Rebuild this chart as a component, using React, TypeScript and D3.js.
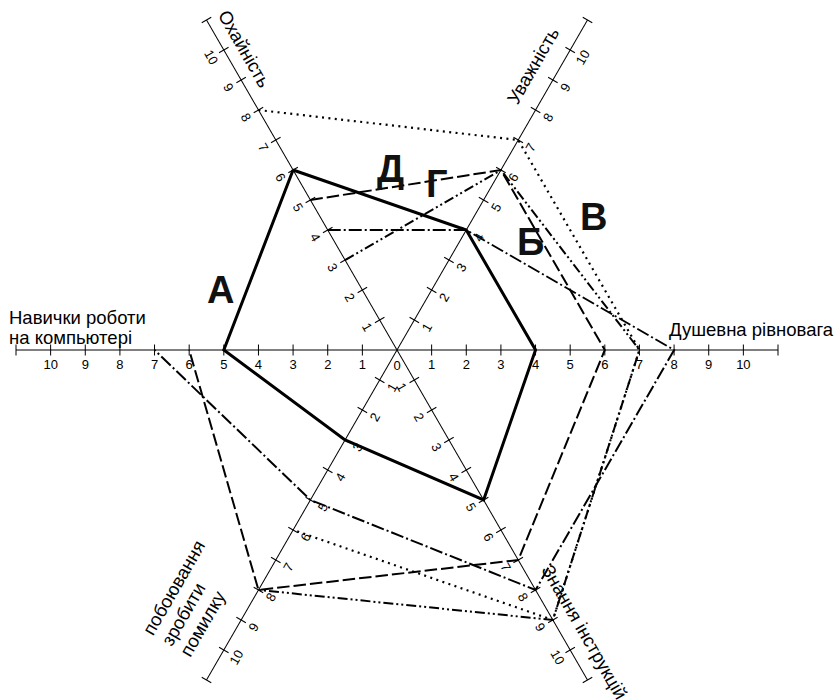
import React from "react";
import * as d3 from "d3";

// Axis names in drawing order (clockwise from upper-left)
const axisNames: string[][] = [
  ["Охайність"],
  ["Уважність"],
  ["Душевна рівновага"],
  ["Знання інструкцій"],
  ["побоювання", "зробити", "помилку"],
  ["Навички роботи", "на компьютері"],
];

const tickValues: number[] = [1, 2, 3, 4, 5, 6, 7, 8, 9, 10];
const axisMax = 11;

const seriesNames: string[] = ["А", "Б", "В", "Г", "Д"];

// Values per axis: Охайність, Уважність, Душевна рівновага, Знання інструкцій, побоювання, Навички
const seriesA: (number | null)[] = [6, 4, 4, 5, 3, 5];
const seriesB: (number | null)[] = [4, 4, 8, 8, 5, 7];
const seriesV: (number | null)[] = [8, 7, 7, 9, 6, null];
const seriesG: (number | null)[] = [3, 6, 7, 9, 8, null];
const seriesD: (number | null)[] = [5, 6, 6, 7, 8, 6];

const CX = 397;
const CY = 350;
const FONT = "'Liberation Sans', Arial, Helvetica, sans-serif";

const r = d3.scaleLinear().domain([0, axisMax]).range([0, 381]);
// screen angles of axes (degrees)
const angles = [-120, -60, 0, 60, 120, 180];

function pt(i: number, v: number): [number, number] {
  const a = (angles[i] * Math.PI) / 180;
  return [CX + r(v) * Math.cos(a), CY + r(v) * Math.sin(a)];
}

const styles = [
  { data: seriesA, width: 3, dash: "none", closed: true },
  { data: seriesB, width: 2, dash: "13 3 2 3", closed: false },
  { data: seriesV, width: 2.2, dash: "2 4.4", closed: false },
  { data: seriesG, width: 2, dash: "10 3 2 3 2 3", closed: false },
  { data: seriesD, width: 2, dash: "12.5 4", closed: false },
];

const labelPos: [number, number][] = [
  [207, 303],
  [517, 255],
  [580, 230],
  [426, 197],
  [377, 182],
];

// title placement in each rotated frame: [rotation, x, firstBaseline, lineStep]
const titleFrames: [number, number, number, number][] = [
  [60, -380, -12, 0],
  [-60, 272, -18, 0],
  [0, 272, -14, 0],
  [60, 262, -15, 0],
  [-60, -370, -68, 21.5],
  [0, -388, -26, 20],
];

export default function App() {
  const lineGen = d3
    .line<[number, number] | null>()
    .defined((d) => d !== null)
    .x((d) => (d as [number, number])[0])
    .y((d) => (d as [number, number])[1]);

  const axisRotations = [0, 60, -60];

  return (
    <svg
      width={840}
      height={700}
      style={{ position: "absolute", left: 0, top: 0, background: "#fff" }}
      fontFamily={FONT}
    >
      <rect width={840} height={700} fill="#fff" />
      {axisRotations.map((rot) => (
        <g key={rot} transform={`translate(${CX},${CY}) rotate(${rot})`}>
          <line x1={-r(axisMax)} x2={r(axisMax)} y1={0} y2={0} stroke="#000" strokeWidth={1} />
          {[...tickValues, axisMax].map((t) =>
            [-1, 1].map((s) => (
              <line
                key={`${t}_${s}`}
                x1={s * r(t)}
                x2={s * r(t)}
                y1={-5.5}
                y2={5.5}
                stroke="#000"
                strokeWidth={1}
              />
            ))
          )}
          {tickValues.map((t) =>
            [-1, 1].map((s) => (
              <text
                key={`l${t}_${s}`}
                x={s * r(t)}
                y={19}
                fontSize={13}
                textAnchor="middle"
                fill="#000"
              >
                {t}
              </text>
            ))
          )}
          {rot === 0 && (
            <text x={0} y={20} fontSize={13} textAnchor="middle" fill="#000">
              0
            </text>
          )}
        </g>
      ))}

      {axisNames.map((lines, i) => {
        const [rot, x, y0, step] = titleFrames[i];
        return (
          <g key={`t${i}`} transform={`translate(${CX},${CY}) rotate(${rot})`}>
            {lines.map((ln, j) => (
              <text key={j} x={x} y={y0 + j * step} fontSize={18.5} fill="#000">
                {ln}
              </text>
            ))}
          </g>
        );
      })}

      {styles.map((s, k) => {
        const pts = s.data.map((v, i) => (v === null ? null : pt(i, v)));
        if (s.closed) pts.push(pts[0]);
        return (
          <path
            key={`s${k}`}
            d={lineGen(pts) || ""}
            fill="none"
            stroke="#000"
            strokeWidth={s.width}
            strokeDasharray={s.dash}
            strokeLinejoin="miter"
            strokeLinecap="butt"
          />
        );
      })}

      {seriesNames.map((n, k) => (
        <text
          key={`n${k}`}
          x={labelPos[k][0]}
          y={labelPos[k][1]}
          fontSize={38}
          fontWeight="bold"
          fill="#111"
        >
          {n}
        </text>
      ))}
    </svg>
  );
}
